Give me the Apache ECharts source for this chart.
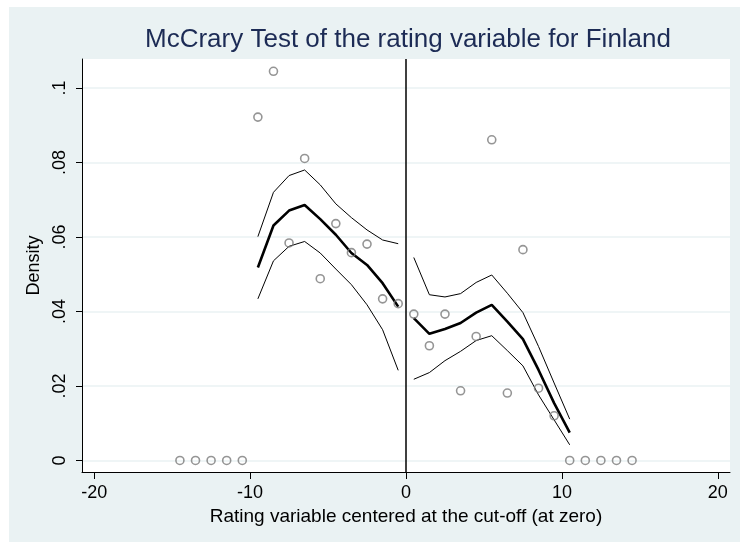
<!DOCTYPE html>
<html>
<head>
<meta charset="utf-8">
<title>McCrary Test</title>
<style>
  html, body { margin: 0; padding: 0; background: #fff; }
  #main { position: absolute; left: 9px; top: 7px; width: 731px; height: 535px; }
</style>
</head>
<body>
<div id="main"></div>
<script src="https://cdn.jsdelivr.net/npm/echarts@6/dist/echarts.min.js"></script>
<script>
// bin midpoints and histogram densities
var leftBinX = [-14.5, -13.5, -12.5, -11.5, -10.5, -9.5, -8.5, -7.5, -6.5, -5.5, -4.5, -3.5, -2.5, -1.5, -0.5];
var leftDensity = [0, 0, 0, 0, 0, 0.0922, 0.1045, 0.0584, 0.0811, 0.0488, 0.0636, 0.0558, 0.0581, 0.0434, 0.0421];
var rightBinX = [0.5, 1.5, 2.5, 3.5, 4.5, 5.5, 6.5, 7.5, 8.5, 9.5, 10.5, 11.5, 12.5, 13.5, 14.5];
var rightDensity = [0.0393, 0.0308, 0.0393, 0.0187, 0.0333, 0.0861, 0.0181, 0.0566, 0.0194, 0.0120, 0, 0, 0, 0, 0];

// fitted density and confidence bands
var leftFitX = [-9.5, -8.5, -7.5, -6.5, -5.5, -4.5, -3.5, -2.5, -1.5, -0.5];
var leftFit = [0.0518, 0.0631, 0.0671, 0.0686, 0.0648, 0.0606, 0.0557, 0.0525, 0.0476, 0.0413];
var leftUpper = [0.0601, 0.0720, 0.0765, 0.0780, 0.0740, 0.0689, 0.0652, 0.0619, 0.0592, 0.0582];
var leftLower = [0.0434, 0.0536, 0.0575, 0.0588, 0.0557, 0.0514, 0.0472, 0.0418, 0.0351, 0.0242];

var rightFitX = [0.5, 1.5, 2.5, 3.5, 4.5, 5.5, 6.5, 7.5, 8.5, 9.5, 10.5];
var rightFit = [0.0382, 0.0340, 0.0353, 0.0369, 0.0397, 0.0418, 0.0373, 0.0326, 0.0243, 0.0154, 0.0075];
var rightUpper = [0.0545, 0.0445, 0.0439, 0.0448, 0.0478, 0.0498, 0.0449, 0.0397, 0.0306, 0.0208, 0.0111];
var rightLower = [0.0218, 0.0236, 0.0268, 0.0293, 0.0322, 0.0335, 0.0295, 0.0254, 0.0176, 0.0109, 0.0042];

// ticks
var xTicks = [-20, -10, 0, 10, 20];
var yTicks = [0, 0.02, 0.04, 0.06, 0.08, 0.1];
var yTickLabels = ['0', '.02', '.04', '.06', '.08', '.1'];

function zip(xs, ys) {
  var out = [];
  for (var i = 0; i < xs.length; i++) out.push([xs[i], ys[i]]);
  return out;
}

var font = 'Liberation Sans, Arial, sans-serif';
var chart = echarts.init(document.getElementById('main'));

function fitLine(xs, ys, w) {
  return {
    type: 'line', data: zip(xs, ys), symbol: 'none', silent: true,
    lineStyle: { color: '#000', width: w }, z: 3
  };
}

function dots(xs, ys) {
  return {
    type: 'scatter', data: zip(xs, ys), symbol: 'circle', symbolSize: 8,
    itemStyle: { color: 'rgba(255,255,255,0)', borderColor: '#7b7b7b', borderWidth: 1.6 },
    z: 4
  };
}

var series = [
  dots(leftBinX, leftDensity),
  dots(rightBinX, rightDensity),
  fitLine(leftFitX, leftFit, 2.6),
  fitLine(leftFitX, leftUpper, 1),
  fitLine(leftFitX, leftLower, 1),
  fitLine(rightFitX, rightFit, 2.6),
  fitLine(rightFitX, rightUpper, 1),
  fitLine(rightFitX, rightLower, 1)
];
// cut-off line at zero
series[2].markLine = {
  silent: true, symbol: 'none', animation: false,
  label: { show: false },
  lineStyle: { color: '#000', width: 1.5, type: 'solid' },
  data: [{ xAxis: 0 }]
};

chart.setOption({
  backgroundColor: '#eaf2f3',
  animation: false,
  title: {
    text: 'McCrary Test of the rating variable for Finland',
    left: 399, top: 20, textAlign: 'center', padding: 0,
    textStyle: { color: '#1c2b55', fontSize: 26, fontWeight: 'normal', fontFamily: font }
  },
  grid: {
    left: 73, top: 52, right: 10, bottom: 70,
    show: true, backgroundColor: '#fff', borderWidth: 0
  },
  xAxis: {
    type: 'value', min: -20.78, max: 20.78,
    name: 'Rating variable centered at the cut-off (at zero)',
    nameLocation: 'middle', nameGap: 29,
    nameTextStyle: { color: '#000', fontSize: 19, fontFamily: font },
    axisLine: { onZero: false, lineStyle: { color: '#000', width: 1 } },
    axisTick: { customValues: xTicks, length: 7, lineStyle: { color: '#000' } },
    axisLabel: { customValues: xTicks, color: '#000', fontSize: 18, fontFamily: font, margin: 12 },
    splitLine: { show: false }
  },
  yAxis: {
    type: 'value', min: -0.0031, max: 0.1078,
    name: 'Density',
    nameLocation: 'middle', nameGap: 31, nameRotate: 90,
    nameTextStyle: { color: '#000', fontSize: 18, fontFamily: font },
    axisLine: { show: true, onZero: false, lineStyle: { color: '#000', width: 1 } },
    axisTick: { show: true, customValues: yTicks, length: 6, lineStyle: { color: '#000' } },
    axisLabel: {
      customValues: yTicks, rotate: 90, color: '#000', fontSize: 18, fontFamily: font, margin: 13,
      formatter: function (v) {
        var best = 0;
        for (var i = 0; i < yTicks.length; i++) {
          if (Math.abs(yTicks[i] - v) < Math.abs(yTicks[best] - v)) best = i;
        }
        return yTickLabels[best];
      }
    },
    splitLine: { show: true, lineStyle: { color: '#eaf2f3', width: 1.5 } }
  },
  series: series
});
</script>
</body>
</html>
